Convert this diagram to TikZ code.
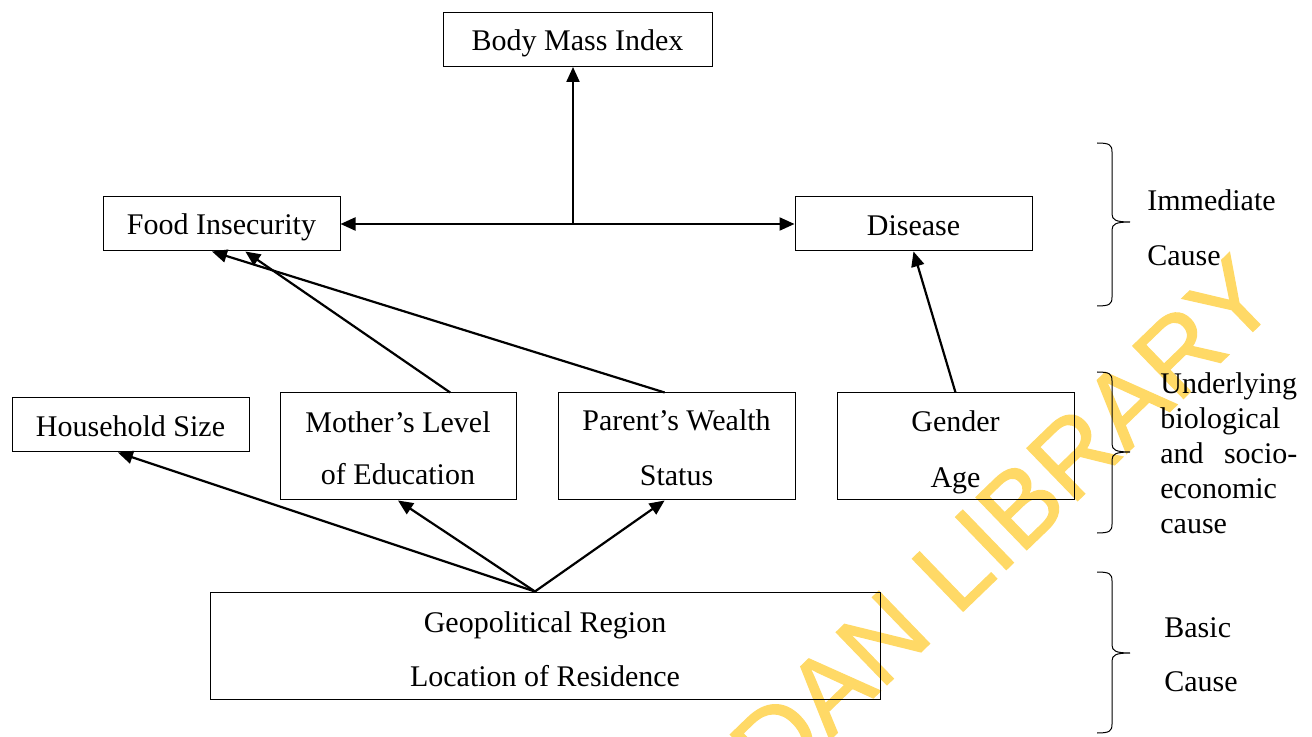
\documentclass[tikz,border=0pt]{standalone}
\usepackage{fontspec}
\setmainfont{Liberation Serif}
\newfontfamily\wmfont[FakeBold=1.2]{Liberation Sans}
\usetikzlibrary{arrows.meta,calc}
\definecolor{wmyellow}{RGB}{255,217,102}
\newcommand\bxstrut{\rule[-2pt]{0pt}{16pt}}
\newcommand\bxstrutb{\rule[-2pt]{0pt}{18pt}}
\tikzset{
  box/.style={draw, line width=0.5pt, inner sep=0pt, align=center,
    font=\fontsize{15}{26.5}\selectfont},
  arr/.style={line width=1.1pt, -{Triangle[length=7.5pt,width=6.5pt]}},
  brace/.style={line width=0.5pt},
  lbl/.style={inner sep=0pt, anchor=base west, font=\fontsize{15}{18}\selectfont},
}
\begin{document}
\begin{tikzpicture}[x=0.5pt,y=-0.5pt]
\useasboundingbox (0,0) rectangle (1312,737);
% watermark
\begin{scope}
\clip (0,0) rectangle (1312,737);
\node[rotate=44, text=wmyellow, inner sep=0pt,
  font=\wmfont\fontsize{53}{53}\selectfont] (wm) at (1003,522) {DAN LIBRARY};
\end{scope}
% boxes
\node[box, minimum width=134.5pt, minimum height=27pt] (bmi) at (577.5,39.5) {\bxstrut Body Mass Index};
\node[box, minimum width=118.5pt, minimum height=27pt] (food) at (221.5,224) {\bxstrut Food Insecurity};
\node[box, minimum width=118.5pt, minimum height=27pt] (dis) at (913.5,224) {\bxstrut Disease};
\node[box, minimum width=118.5pt, minimum height=27pt] (hh) at (130.5,425) {\bxstrut Household Size};
\node[box, minimum width=118pt, minimum height=53.5pt, font=\fontsize{15}{26}\selectfont] (moth) at (398,446.5) {\bxstrut Mother’s Level\\\bxstrut of Education};
\node[box, minimum width=118.5pt, minimum height=53.5pt, font=\fontsize{15}{27.5}\selectfont] (par) at (676.5,446.5) {\bxstrut Parent’s Wealth\\\bxstrut Status};
\node[box, minimum width=118.5pt, minimum height=53.5pt, font=\fontsize{15}{28}\selectfont] (gen) at (955.5,446.5) {\bxstrutb Gender\\\bxstrutb Age};
\node[box, minimum width=335pt, minimum height=53.5pt, font=\fontsize{15}{27}\selectfont] (geo) at (545,645.5) {\bxstrutb Geopolitical Region\\\bxstrutb Location of Residence};
% connectors
\coordinate (j) at (573,224);
\draw[arr] (j) -- (j |- bmi.south);
\draw[arr] (j) -- (food.east);
\draw[arr] (j) -- (dis.west);
\draw[arr] ($(moth.north west)!0.72!(moth.north east)$) -- ($(food.south west)!0.60!(food.south east)$);
\draw[arr] ($(par.north west)!0.45!(par.north east)$) -- ($(food.south west)!0.46!(food.south east)$);
\draw[arr] (gen.north) -- (dis.south);
\coordinate (g) at ($(geo.north west)!0.485!(geo.north east)$);
\draw[arr] (g) -- ($(hh.south west)!0.447!(hh.south east)$);
\draw[arr] (g) -- (moth.south);
\draw[arr] (g) -- ($(par.south west)!0.45!(par.south east)$);
% braces
\foreach \t/\m/\b in {143/222/306, 372/452/533, 572/653/733}{
  \draw[brace] (1097,\t) .. controls (1110,\t) and (1112,\t+2) .. (1112,\t+9)
    -- (1112,\m-8) .. controls (1112,\m-2) and (1116,\m) .. (1130,\m)
    .. controls (1116,\m) and (1112,\m+2) .. (1112,\m+8)
    -- (1112,\b-9) .. controls (1112,\b-2) and (1110,\b) .. (1097,\b);
}
% level labels
\node[lbl] (imm1) at (1147,211) {Immediate};
\node[lbl] (imm2) at (1147,266) {Cause};
\node[lbl] (und1) at (1160,394) {\makebox[68.5pt][s]{Underlying}};
\node[lbl] (und2) at (1160,429) {biological};
\node[lbl] (und3) at (1160,464) {\makebox[68.5pt][s]{and socio-}};
\node[lbl] (und4) at (1160,499) {economic};
\node[lbl] (und5) at (1160,533) {cause};
\node[lbl] (bas1) at (1164,637) {Basic};
\node[lbl] (bas2) at (1164,691) {Cause};
\end{tikzpicture}
\end{document}
